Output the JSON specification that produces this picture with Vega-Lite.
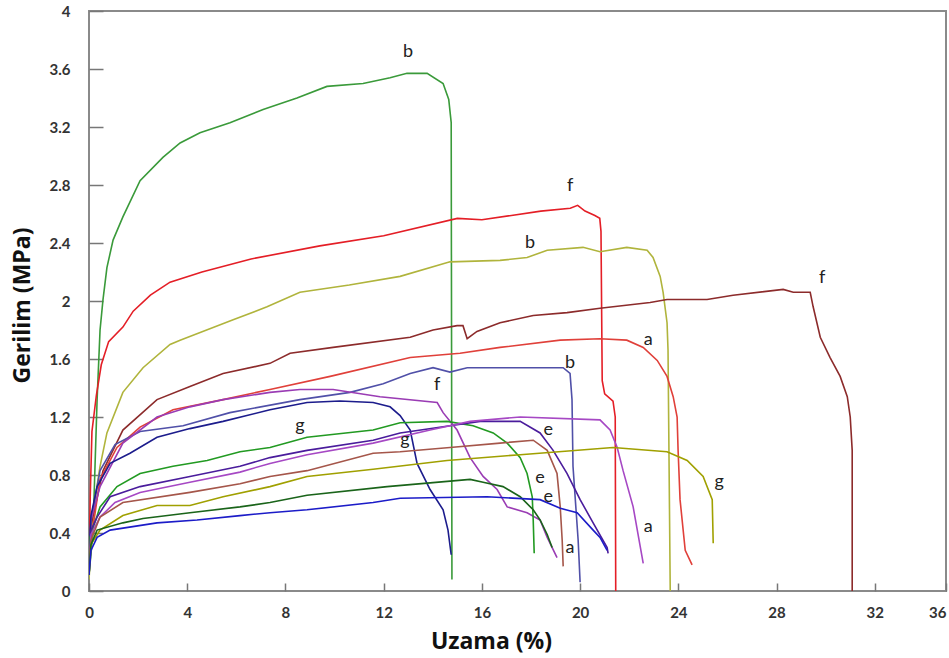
{
  "$schema": "https://vega.github.io/schema/vega-lite/v6.json",
  "width": 857,
  "height": 580,
  "autosize": {"type": "none"},
  "padding": {"left": 89, "top": 11, "right": 3, "bottom": 67},
  "background": "white",
  "config": {
    "view": {"stroke": "#8a8a8a", "strokeWidth": 2},
    "font": "Lato"
  },
  "datasets": {
    "curves": [
      {"s":"gb","x":0,"y":0.11},{"s":"gb","x":0.16,"y":0.4},{"s":"gb","x":0.33,"y":1.32},{"s":"gb","x":0.45,"y":1.8},{"s":"gb","x":0.57,"y":2.01},{"s":"gb","x":0.73,"y":2.23},{"s":"gb","x":0.98,"y":2.42},{"s":"gb","x":1.38,"y":2.58},{"s":"gb","x":2.08,"y":2.83},{"s":"gb","x":3.01,"y":2.99},{"s":"gb","x":3.71,"y":3.09},{"s":"gb","x":4.52,"y":3.16},{"s":"gb","x":5.74,"y":3.23},{"s":"gb","x":7.09,"y":3.32},{"s":"gb","x":8.47,"y":3.4},{"s":"gb","x":9.69,"y":3.48},{"s":"gb","x":11.16,"y":3.5},{"s":"gb","x":12.26,"y":3.54},{"s":"gb","x":12.95,"y":3.57},{"s":"gb","x":13.77,"y":3.57},{"s":"gb","x":14.42,"y":3.5},{"s":"gb","x":14.65,"y":3.39},{"s":"gb","x":14.75,"y":3.23},{"s":"gb","x":14.78,"y":0.08},
      {"s":"rf","x":0,"y":0.14},{"s":"rf","x":0.05,"y":0.65},{"s":"rf","x":0.12,"y":1.1},{"s":"rf","x":0.3,"y":1.35},{"s":"rf","x":0.5,"y":1.56},{"s":"rf","x":0.8,"y":1.72},{"s":"rf","x":1.38,"y":1.82},{"s":"rf","x":1.8,"y":1.93},{"s":"rf","x":2.5,"y":2.04},{"s":"rf","x":3.3,"y":2.13},{"s":"rf","x":4.6,"y":2.2},{"s":"rf","x":6.6,"y":2.29},{"s":"rf","x":9.4,"y":2.38},{"s":"rf","x":12,"y":2.45},{"s":"rf","x":15,"y":2.57},{"s":"rf","x":16,"y":2.56},{"s":"rf","x":18.4,"y":2.62},{"s":"rf","x":19.6,"y":2.64},{"s":"rf","x":19.9,"y":2.66},{"s":"rf","x":20.2,"y":2.62},{"s":"rf","x":20.6,"y":2.59},{"s":"rf","x":20.8,"y":2.57},{"s":"rf","x":20.85,"y":2.48},{"s":"rf","x":20.9,"y":1.45},{"s":"rf","x":21.0,"y":1.36},{"s":"rf","x":21.34,"y":1.31},{"s":"rf","x":21.43,"y":1.2},{"s":"rf","x":21.45,"y":0},
      {"s":"ob","x":0,"y":0.08},{"s":"ob","x":0.12,"y":0.4},{"s":"ob","x":0.24,"y":0.63},{"s":"ob","x":0.45,"y":0.86},{"s":"ob","x":0.73,"y":1.09},{"s":"ob","x":1.38,"y":1.37},{"s":"ob","x":2.2,"y":1.54},{"s":"ob","x":3.3,"y":1.7},{"s":"ob","x":3.71,"y":1.73},{"s":"ob","x":5.87,"y":1.87},{"s":"ob","x":7.25,"y":1.96},{"s":"ob","x":8.59,"y":2.06},{"s":"ob","x":10.6,"y":2.11},{"s":"ob","x":12.67,"y":2.17},{"s":"ob","x":14.7,"y":2.27},{"s":"ob","x":16.74,"y":2.28},{"s":"ob","x":17.84,"y":2.3},{"s":"ob","x":18.66,"y":2.35},{"s":"ob","x":20.12,"y":2.37},{"s":"ob","x":20.81,"y":2.34},{"s":"ob","x":21.9,"y":2.37},{"s":"ob","x":22.73,"y":2.35},{"s":"ob","x":22.97,"y":2.3},{"s":"ob","x":23.26,"y":2.17},{"s":"ob","x":23.38,"y":2.06},{"s":"ob","x":23.54,"y":1.85},{"s":"ob","x":23.58,"y":1.66},{"s":"ob","x":23.67,"y":0},
      {"s":"bf","x":0,"y":0.14},{"s":"bf","x":0.04,"y":0.42},{"s":"bf","x":0.57,"y":0.83},{"s":"bf","x":1.38,"y":1.11},{"s":"bf","x":2.77,"y":1.32},{"s":"bf","x":4.11,"y":1.41},{"s":"bf","x":5.46,"y":1.5},{"s":"bf","x":7.37,"y":1.57},{"s":"bf","x":8.19,"y":1.64},{"s":"bf","x":9.94,"y":1.68},{"s":"bf","x":13.08,"y":1.75},{"s":"bf","x":14.01,"y":1.8},{"s":"bf","x":14.99,"y":1.83},{"s":"bf","x":15.23,"y":1.83},{"s":"bf","x":15.4,"y":1.74},{"s":"bf","x":15.8,"y":1.79},{"s":"bf","x":16.74,"y":1.85},{"s":"bf","x":18.09,"y":1.9},{"s":"bf","x":19.47,"y":1.92},{"s":"bf","x":20.81,"y":1.95},{"s":"bf","x":22.85,"y":1.99},{"s":"bf","x":23.54,"y":2.01},{"s":"bf","x":25.17,"y":2.01},{"s":"bf","x":26.23,"y":2.04},{"s":"bf","x":28.27,"y":2.08},{"s":"bf","x":28.68,"y":2.06},{"s":"bf","x":29.37,"y":2.06},{"s":"bf","x":29.49,"y":1.96},{"s":"bf","x":29.78,"y":1.75},{"s":"bf","x":30.18,"y":1.61},{"s":"bf","x":30.59,"y":1.48},{"s":"bf","x":30.88,"y":1.34},{"s":"bf","x":31.0,"y":1.2},{"s":"bf","x":31.08,"y":0.97},{"s":"bf","x":31.08,"y":0},
      {"s":"ra","x":0,"y":0.18},{"s":"ra","x":0.04,"y":0.3},{"s":"ra","x":0.45,"y":0.77},{"s":"ra","x":1.14,"y":0.99},{"s":"ra","x":2.08,"y":1.13},{"s":"ra","x":3.42,"y":1.25},{"s":"ra","x":5.46,"y":1.32},{"s":"ra","x":7.37,"y":1.39},{"s":"ra","x":9.82,"y":1.48},{"s":"ra","x":13.08,"y":1.61},{"s":"ra","x":15.11,"y":1.64},{"s":"ra","x":16.74,"y":1.68},{"s":"ra","x":19.19,"y":1.73},{"s":"ra","x":20.81,"y":1.74},{"s":"ra","x":21.9,"y":1.73},{"s":"ra","x":22.57,"y":1.68},{"s":"ra","x":23.14,"y":1.59},{"s":"ra","x":23.54,"y":1.48},{"s":"ra","x":23.79,"y":1.34},{"s":"ra","x":23.95,"y":1.2},{"s":"ra","x":23.99,"y":0.97},{"s":"ra","x":24.07,"y":0.63},{"s":"ra","x":24.28,"y":0.28},{"s":"ra","x":24.56,"y":0.18},
      {"s":"bb","x":0,"y":0.18},{"s":"bb","x":0.08,"y":0.49},{"s":"bb","x":0.45,"y":0.83},{"s":"bb","x":1.06,"y":1.01},{"s":"bb","x":2.08,"y":1.1},{"s":"bb","x":3.83,"y":1.14},{"s":"bb","x":5.74,"y":1.23},{"s":"bb","x":8.59,"y":1.32},{"s":"bb","x":10.63,"y":1.37},{"s":"bb","x":11.98,"y":1.43},{"s":"bb","x":13.08,"y":1.5},{"s":"bb","x":14.01,"y":1.54},{"s":"bb","x":14.7,"y":1.51},{"s":"bb","x":15.4,"y":1.54},{"s":"bb","x":19.31,"y":1.54},{"s":"bb","x":19.59,"y":1.5},{"s":"bb","x":19.67,"y":1.32},{"s":"bb","x":19.71,"y":0.86},{"s":"bb","x":19.92,"y":0.35},{"s":"bb","x":20.0,"y":0.06},
      {"s":"pf","x":0,"y":0.21},{"s":"pf","x":0.08,"y":0.49},{"s":"pf","x":0.45,"y":0.72},{"s":"pf","x":1.38,"y":1.02},{"s":"pf","x":2.77,"y":1.2},{"s":"pf","x":4.11,"y":1.27},{"s":"pf","x":5.46,"y":1.32},{"s":"pf","x":7.37,"y":1.37},{"s":"pf","x":8.59,"y":1.39},{"s":"pf","x":9.94,"y":1.39},{"s":"pf","x":11.85,"y":1.34},{"s":"pf","x":14.18,"y":1.3},{"s":"pf","x":14.42,"y":1.23},{"s":"pf","x":14.99,"y":1.11},{"s":"pf","x":15.52,"y":0.92},{"s":"pf","x":16.05,"y":0.79},{"s":"pf","x":16.62,"y":0.7},{"s":"pf","x":17.03,"y":0.58},{"s":"pf","x":17.84,"y":0.54},{"s":"pf","x":18.37,"y":0.49},{"s":"pf","x":18.66,"y":0.37},{"s":"pf","x":19.06,"y":0.23},
      {"s":"ng","x":0,"y":0.21},{"s":"ng","x":0.08,"y":0.52},{"s":"ng","x":0.33,"y":0.72},{"s":"ng","x":0.86,"y":0.88},{"s":"ng","x":1.67,"y":0.95},{"s":"ng","x":2.77,"y":1.06},{"s":"ng","x":4.11,"y":1.12},{"s":"ng","x":5.46,"y":1.17},{"s":"ng","x":7.37,"y":1.25},{"s":"ng","x":8.88,"y":1.3},{"s":"ng","x":10.22,"y":1.31},{"s":"ng","x":11.57,"y":1.3},{"s":"ng","x":12.26,"y":1.27},{"s":"ng","x":12.67,"y":1.21},{"s":"ng","x":13.08,"y":1.11},{"s":"ng","x":13.36,"y":0.88},{"s":"ng","x":13.89,"y":0.7},{"s":"ng","x":14.42,"y":0.56},{"s":"ng","x":14.62,"y":0.42},{"s":"ng","x":14.75,"y":0.25},
      {"s":"gr","x":0,"y":0.14},{"s":"gr","x":0.04,"y":0.37},{"s":"gr","x":0.45,"y":0.58},{"s":"gr","x":1.14,"y":0.72},{"s":"gr","x":2.08,"y":0.81},{"s":"gr","x":3.42,"y":0.86},{"s":"gr","x":4.81,"y":0.9},{"s":"gr","x":6.15,"y":0.96},{"s":"gr","x":7.37,"y":0.99},{"s":"gr","x":8.88,"y":1.06},{"s":"gr","x":11.57,"y":1.11},{"s":"gr","x":12.67,"y":1.16},{"s":"gr","x":14.58,"y":1.17},{"s":"gr","x":15.64,"y":1.14},{"s":"gr","x":16.46,"y":1.09},{"s":"gr","x":17.03,"y":1.02},{"s":"gr","x":17.56,"y":0.92},{"s":"gr","x":17.84,"y":0.81},{"s":"gr","x":18.05,"y":0.65},{"s":"gr","x":18.09,"y":0.49},{"s":"gr","x":18.13,"y":0.26},
      {"s":"ie","x":0,"y":0.14},{"s":"ie","x":0.08,"y":0.42},{"s":"ie","x":0.33,"y":0.51},{"s":"ie","x":0.86,"y":0.65},{"s":"ie","x":2.08,"y":0.72},{"s":"ie","x":4.11,"y":0.79},{"s":"ie","x":6.15,"y":0.86},{"s":"ie","x":7.37,"y":0.92},{"s":"ie","x":8.88,"y":0.97},{"s":"ie","x":11.57,"y":1.04},{"s":"ie","x":12.67,"y":1.09},{"s":"ie","x":14.7,"y":1.14},{"s":"ie","x":15.93,"y":1.17},{"s":"ie","x":17.56,"y":1.17},{"s":"ie","x":18.37,"y":1.09},{"s":"ie","x":18.9,"y":0.97},{"s":"ie","x":19.47,"y":0.81},{"s":"ie","x":20.0,"y":0.63},{"s":"ie","x":20.53,"y":0.47},{"s":"ie","x":21.1,"y":0.3},{"s":"ie","x":21.14,"y":0.26},
      {"s":"pa","x":0,"y":0.14},{"s":"pa","x":0.08,"y":0.39},{"s":"pa","x":0.45,"y":0.51},{"s":"pa","x":1.06,"y":0.61},{"s":"pa","x":2.08,"y":0.68},{"s":"pa","x":4.11,"y":0.75},{"s":"pa","x":6.15,"y":0.82},{"s":"pa","x":7.37,"y":0.88},{"s":"pa","x":8.88,"y":0.94},{"s":"pa","x":11.57,"y":1.02},{"s":"pa","x":13.89,"y":1.11},{"s":"pa","x":15.52,"y":1.17},{"s":"pa","x":17.56,"y":1.2},{"s":"pa","x":20.81,"y":1.18},{"s":"pa","x":21.22,"y":1.11},{"s":"pa","x":21.51,"y":0.99},{"s":"pa","x":21.75,"y":0.83},{"s":"pa","x":22.16,"y":0.58},{"s":"pa","x":22.57,"y":0.19},
      {"s":"ba","x":0,"y":0.14},{"s":"ba","x":0.08,"y":0.35},{"s":"ba","x":0.45,"y":0.51},{"s":"ba","x":1.38,"y":0.61},{"s":"ba","x":4.11,"y":0.68},{"s":"ba","x":6.15,"y":0.74},{"s":"ba","x":7.37,"y":0.79},{"s":"ba","x":8.88,"y":0.83},{"s":"ba","x":11.57,"y":0.95},{"s":"ba","x":12.67,"y":0.96},{"s":"ba","x":14.7,"y":0.99},{"s":"ba","x":16.74,"y":1.02},{"s":"ba","x":18.09,"y":1.04},{"s":"ba","x":18.66,"y":0.97},{"s":"ba","x":19.06,"y":0.81},{"s":"ba","x":19.19,"y":0.58},{"s":"ba","x":19.27,"y":0.35},{"s":"ba","x":19.31,"y":0.17},
      {"s":"og","x":0,"y":0.11},{"s":"og","x":0.08,"y":0.32},{"s":"og","x":0.45,"y":0.42},{"s":"og","x":1.38,"y":0.52},{"s":"og","x":2.77,"y":0.59},{"s":"og","x":4.11,"y":0.59},{"s":"og","x":5.46,"y":0.65},{"s":"og","x":7.37,"y":0.72},{"s":"og","x":8.88,"y":0.79},{"s":"og","x":11.57,"y":0.84},{"s":"og","x":14.58,"y":0.9},{"s":"og","x":17.56,"y":0.94},{"s":"og","x":21.34,"y":0.99},{"s":"og","x":23.54,"y":0.96},{"s":"og","x":24.36,"y":0.9},{"s":"og","x":25.01,"y":0.79},{"s":"og","x":25.38,"y":0.63},{"s":"og","x":25.42,"y":0.33},
      {"s":"de","x":0,"y":0.11},{"s":"de","x":0.08,"y":0.32},{"s":"de","x":0.33,"y":0.42},{"s":"de","x":1.38,"y":0.47},{"s":"de","x":2.2,"y":0.5},{"s":"de","x":4.11,"y":0.54},{"s":"de","x":6.15,"y":0.58},{"s":"de","x":7.37,"y":0.61},{"s":"de","x":8.88,"y":0.66},{"s":"de","x":12.14,"y":0.72},{"s":"de","x":15.52,"y":0.77},{"s":"de","x":16.05,"y":0.75},{"s":"de","x":16.86,"y":0.72},{"s":"de","x":17.56,"y":0.65},{"s":"de","x":18.09,"y":0.56},{"s":"de","x":18.37,"y":0.49},{"s":"de","x":18.66,"y":0.39},{"s":"de","x":18.86,"y":0.3},
      {"s":"be","x":0,"y":0.11},{"s":"be","x":0.08,"y":0.28},{"s":"be","x":0.33,"y":0.37},{"s":"be","x":0.86,"y":0.42},{"s":"be","x":2.77,"y":0.47},{"s":"be","x":4.4,"y":0.49},{"s":"be","x":6.15,"y":0.52},{"s":"be","x":7.37,"y":0.54},{"s":"be","x":8.88,"y":0.56},{"s":"be","x":11.57,"y":0.61},{"s":"be","x":12.67,"y":0.64},{"s":"be","x":16.21,"y":0.65},{"s":"be","x":18.37,"y":0.63},{"s":"be","x":19.19,"y":0.57},{"s":"be","x":19.88,"y":0.54},{"s":"be","x":20.53,"y":0.42},{"s":"be","x":20.81,"y":0.37},{"s":"be","x":21.1,"y":0.28}
    ],
    "labels": [
      {"t":"b","x":12.99,"y":3.72},{"t":"f","x":19.59,"y":2.79},{"t":"b","x":17.96,"y":2.4},{"t":"f","x":29.86,"y":2.16},{"t":"a","x":22.77,"y":1.73},{"t":"b","x":19.59,"y":1.57},{"t":"f","x":14.18,"y":1.42},{"t":"g","x":8.59,"y":1.14},{"t":"g","x":12.87,"y":1.04},{"t":"e","x":18.7,"y":1.11},{"t":"g","x":25.66,"y":0.75},{"t":"e","x":18.37,"y":0.78},{"t":"e","x":18.7,"y":0.65},{"t":"a","x":22.77,"y":0.44},{"t":"a","x":19.59,"y":0.3}
    ]
  },
  "layer": [
    {
      "data": {"name": "curves"},
      "mark": {"type": "line", "strokeWidth": 1.6, "clip": true},
      "encoding": {
        "x": {
          "field": "x", "type": "quantitative",
          "scale": {"domain": [0, 34.9], "nice": false, "zero": false},
          "axis": {
            "title": "Uzama (%)",
            "values": [0, 4, 8, 12, 16, 20, 24, 28, 32, 34.9],
            "labelExpr": "datum.value > 34 ? '36' : datum.label",
            "labelAlign": {"condition": {"test": "datum.value > 34", "value": "right"}, "value": "center"},
            "domain": false, "grid": false, "offset": -8,
            "tickSize": 8, "tickColor": "#777", "tickWidth": 1.5,
            "labelPadding": 14, "labelFont": "Lato", "labelFontSize": 15, "labelFontWeight": "bold", "labelColor": "#333",
            "titleFont": "Open Sans", "titleFontSize": 23, "titleFontWeight": "bold", "titleColor": "#111",
            "titleX": 402, "titleY": 58, "titleBaseline": "middle"
          }
        },
        "y": {
          "field": "y", "type": "quantitative",
          "scale": {"domain": [0, 4], "nice": false},
          "axis": {
            "title": "Gerilim (MPa)",
            "values": [0, 0.4, 0.8, 1.2, 1.6, 2, 2.4, 2.8, 3.2, 3.6, 4],
            "labelExpr": "datum.value == 0 ? '0' : format(datum.value, '.1~f')",
            "domain": false, "grid": false, "offset": -14,
            "tickSize": 14, "tickColor": "#777", "tickWidth": 1.5,
            "labelPadding": 19, "labelFont": "Lato", "labelFontSize": 15, "labelFontWeight": "bold", "labelColor": "#333",
            "titleFont": "Open Sans", "titleFontSize": 23, "titleFontWeight": "bold", "titleColor": "#111",
            "titleX": -81, "titleY": 294, "titleBaseline": "middle"
          }
        },
        "color": {
          "field": "s", "type": "nominal", "legend": null,
          "scale": {
            "domain": ["gb","rf","ob","bf","ra","bb","pf","ng","gr","ie","pa","ba","og","de","be"],
            "range": ["#3a9a3a","#e41e26","#b0b43c","#8c2b2b","#e0403a","#5050a8","#9a3cb4","#1c1c8c","#229a22","#4a1c9c","#a648c4","#a5564a","#a0a000","#1a641a","#1c1cc8"]
          }
        },
        "order": {"value": null}
      }
    },
    {
      "data": {"name": "labels"},
      "mark": {"type": "text", "font": "Lato", "fontSize": 18, "color": "#222"},
      "encoding": {
        "x": {"field": "x", "type": "quantitative"},
        "y": {"field": "y", "type": "quantitative"},
        "text": {"field": "t"}
      }
    }
  ]
}
